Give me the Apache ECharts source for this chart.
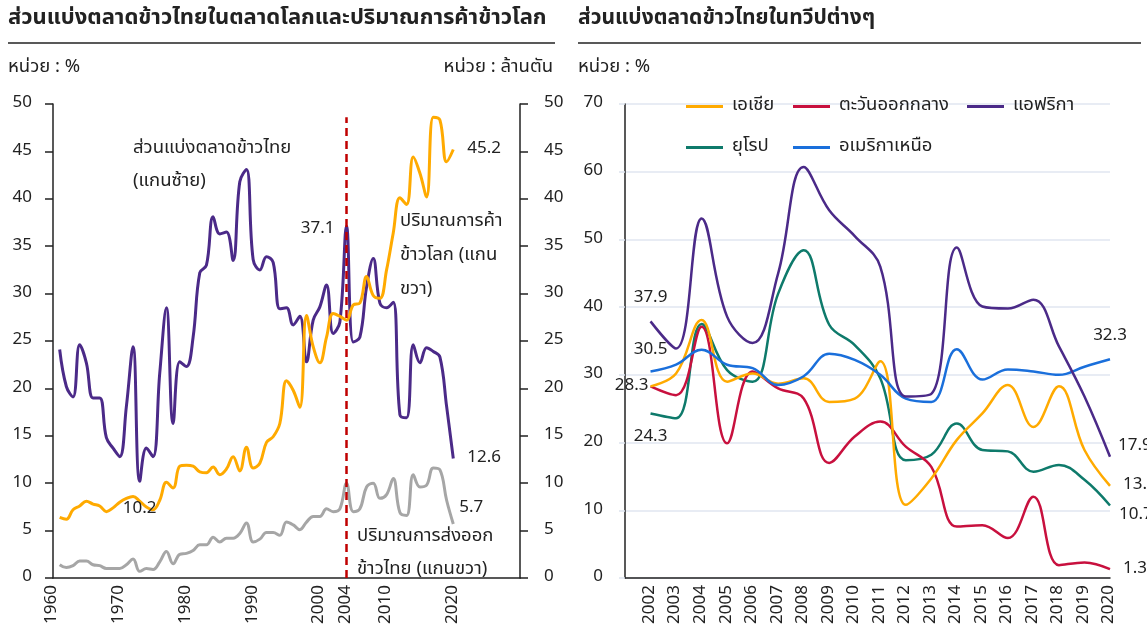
<!DOCTYPE html>
<html>
<head>
<meta charset="utf-8">
<script src="https://cdn.jsdelivr.net/npm/echarts@6/dist/echarts.min.js"></script>
<style>
  html, body { margin: 0; padding: 0; background: #fff; }
  #chart { width: 1147px; height: 629px; }
</style>
</head>
<body>
<div id="chart"></div>
<script>
const FONT = 'Tahoma, "Noto Sans Thai", "Noto Sans", sans-serif'
const TXT = '#222'

// ---- left panel data (1961-2020) ----
const shareYears = [
  1961, 1962, 1963, 1964, 1965, 1966, 1967, 1968, 1969, 1970,
  1971, 1972, 1973, 1974, 1975, 1976, 1977, 1978, 1979, 1980,
  1981, 1982, 1983, 1984, 1985, 1986, 1987, 1988, 1989, 1990,
  1991, 1992, 1993, 1994, 1995, 1996, 1997, 1998, 1999, 2000,
  2001, 2002, 2003, 2004, 2005, 2006, 2007, 2008, 2009, 2010,
  2011, 2012, 2013, 2014, 2015, 2016, 2017, 2018, 2019, 2020
]
// Thai share of world rice market, % (left axis)
const thaiShare = [
  24.1, 20.2, 19.1, 24.6, 22.7, 19.0, 19.0, 14.8, 13.7, 12.8,
  18.1, 24.4, 10.2, 13.7, 12.8, 21.6, 28.5, 16.3, 22.8, 22.3,
  25.4, 32.2, 33.0, 38.1, 36.3, 36.5, 33.5, 41.8, 43.1, 33.6,
  32.5, 33.9, 33.3, 28.4, 28.5, 26.7, 27.6, 22.8, 27.2, 28.6,
  30.9, 25.8, 27.0, 37.1, 24.9, 25.4, 30.7, 33.7, 29.0, 28.5,
  29.1, 17.2, 16.9, 24.6, 22.7, 24.3, 23.9, 23.3, 18.1, 12.6
]
// world rice trade, million tonnes (right axis)
const worldTrade = [
  6.4, 6.2, 7.2, 7.6, 8.1, 7.8, 7.6, 7.0, 7.4, 8.0,
  8.4, 8.6, 8.1, 7.5, 7.2, 8.2, 10.1, 9.5, 11.8, 11.9,
  11.8, 11.2, 11.1, 11.7, 10.9, 11.5, 12.8, 11.3, 13.8, 11.6,
  12.1, 14.3, 14.9, 16.3, 20.8, 19.8, 18.0, 27.7, 24.4, 22.7,
  25.4, 27.9, 27.6, 27.2, 28.8, 29.0, 31.8, 29.8, 29.5, 32.5,
  36.4, 40.1, 39.4, 44.4, 42.7, 40.2, 48.6, 48.3, 43.9, 45.2
]
// Thai rice exports, million tonnes (right axis)
const thaiExport = [
  1.4, 1.1, 1.3, 1.8, 1.8, 1.4, 1.3, 1.0, 1.0, 1.0,
  1.4, 2.0, 0.7, 1.0, 0.9, 1.7, 2.8, 1.5, 2.5, 2.6,
  2.9, 3.5, 3.5, 4.3, 3.8, 4.2, 4.2, 4.7, 5.8, 3.8,
  4.1, 4.8, 4.8, 4.5, 5.9, 5.6, 5.1, 5.9, 6.5, 6.5,
  7.3, 7.0, 7.3, 10.0, 7.0, 7.3, 9.6, 10.0, 8.4, 8.8,
  10.5, 6.9, 6.6, 10.9, 9.6, 9.8, 11.6, 11.4, 8.2, 5.7
]
const leftTickLabels = ['1960', '1970', '1980', '1990', '2000', '2004', '2010', '2020']

// ---- right panel data (2002-2020) ----
const regionYears = [
  '2002', '2003', '2004', '2005', '2006', '2007', '2008', '2009', '2010', '2011',
  '2012', '2013', '2014', '2015', '2016', '2017', '2018', '2019', '2020'
]
const asia = [28.3, 30.2, 38.1, 29.0, 30.2, 28.7, 29.5, 26.0, 26.5, 32.0, 10.8, 14.7, 20.4, 24.3, 28.5, 22.3, 28.3, 18.9, 13.6]
const middleEast = [28.3, 27.0, 37.1, 19.9, 30.5, 28.0, 26.5, 17.0, 20.9, 23.1, 19.4, 16.4, 7.6, 7.8, 5.9, 12.0, 1.9, 2.3, 1.3]
const africa = [37.9, 33.9, 53.1, 38.6, 34.7, 45.0, 60.7, 54.3, 50.5, 46.0, 26.8, 27.2, 48.8, 40.1, 39.8, 41.1, 34.2, 26.8, 17.9]
const europe = [24.3, 23.6, 37.5, 30.7, 29.0, 42.0, 48.4, 37.4, 34.4, 29.5, 17.4, 18.2, 22.8, 18.9, 18.7, 15.7, 16.7, 14.5, 10.7]
const northAmerica = [30.5, 31.5, 33.7, 31.5, 31.0, 28.5, 29.8, 33.1, 32.2, 30.0, 26.5, 26.0, 33.8, 29.3, 30.8, 30.5, 30.0, 31.2, 32.3]

// axis categories (left runs on to 2030 so the plot has room for end labels)
const leftCats = []
for (let y = 1960; y <= 2030; y++) leftCats.push(String(y))
const rightCats = ['2001'].concat(regionYears)

// attach a value label to selected points
function toData(xs, ys, labels) {
  return ys.map(function(v, i) {
    const key = String(xs[i])
    const item = { value: [key, v] }
    if (labels && labels[key]) {
      item.label = Object.assign({ show: true }, labels[key])
    }
    return item
  })
}

const valueLabel = {
  show: false,
  color: TXT,
  fontSize: 17,
  fontFamily: FONT,
  formatter: function(p) { return p.value[1].toFixed(1) }
}

function lineSeries(name, color, width, data, xIdx, yIdx, extra) {
  return Object.assign({
    name: name,
    type: 'line',
    xAxisIndex: xIdx,
    yAxisIndex: yIdx,
    data: data,
    smooth: 0.4,
    symbol: 'circle',
    symbolSize: 0,
    showSymbol: true,
    showAllSymbol: true,
    lineStyle: { color: color, width: width },
    itemStyle: { color: color },
    label: valueLabel,
    emphasis: { disabled: true },
    z: 3
  }, extra || {})
}

function legendItem(name, left, top) {
  return {
    data: [name],
    left: left,
    top: top,
    padding: 0,
    icon: 'rect',
    itemWidth: 37,
    itemHeight: 3,
    selectedMode: false,
    textStyle: { color: TXT, fontSize: 18.5, fontFamily: FONT, padding: [0, 0, 0, 4] }
  }
}

function text(str, x, y, opts) {
  return {
    type: 'text',
    x: x,
    y: y,
    silent: true,
    style: Object.assign({
      text: str,
      fill: TXT,
      font: '18.5px ' + FONT,
      textVerticalAlign: 'middle'
    }, opts || {})
  }
}

const yAxisBase = {
  type: 'value',
  min: 0,
  interval: 5,
  max: 50,
  axisLine: { show: true, lineStyle: { color: TXT, width: 1.5 } },
  axisTick: { show: true, length: 8, lineStyle: { color: TXT, width: 1.5 } },
  splitLine: { show: false },
  axisLabel: { color: TXT, fontSize: 17, fontFamily: FONT }
}

const option = {
  animation: false,
  backgroundColor: '#fff',
  grid: [
    { left: 53, top: 104, width: 467, height: 474 },
    { left: 625, top: 104, width: 485, height: 474 }
  ],
  xAxis: [
    {
      type: 'category',
      gridIndex: 0,
      data: leftCats,
      boundaryGap: false,
      axisLine: { lineStyle: { color: TXT, width: 1.5 } },
      axisTick: { show: false },
      axisLabel: {
        rotate: 90,
        margin: 7,
        color: TXT,
        fontSize: 17,
        fontFamily: FONT,
        interval: function(i, v) { return leftTickLabels.indexOf(v) >= 0 }
      }
    },
    {
      type: 'category',
      gridIndex: 1,
      data: rightCats,
      boundaryGap: false,
      axisLine: { lineStyle: { color: TXT, width: 1.5 } },
      axisTick: { show: false },
      axisLabel: {
        rotate: 90,
        margin: 7,
        color: TXT,
        fontSize: 17,
        fontFamily: FONT,
        interval: function(i) { return i > 0 }
      }
    }
  ],
  yAxis: [
    Object.assign({}, yAxisBase, {
      gridIndex: 0,
      position: 'left',
      axisLabel: Object.assign({}, yAxisBase.axisLabel, { margin: 21 })
    }),
    Object.assign({}, yAxisBase, {
      gridIndex: 0,
      position: 'right',
      axisLabel: Object.assign({}, yAxisBase.axisLabel, { margin: 24 })
    }),
    {
      type: 'value',
      gridIndex: 1,
      min: 0,
      max: 70,
      interval: 10,
      axisLine: { show: true, lineStyle: { color: TXT, width: 1.5 } },
      axisTick: { show: true, length: 6, lineStyle: { color: '#dde3ee', width: 1.5 } },
      splitLine: { show: true, lineStyle: { color: '#e1e6f0', width: 1.5 } },
      axisLabel: { color: TXT, fontSize: 17, fontFamily: FONT, margin: 22 }
    }
  ],
  legend: [
    legendItem('เอเชีย', 686, 97),
    legendItem('ตะวันออกกลาง', 793, 97),
    legendItem('แอฟริกา', 967, 97),
    legendItem('ยุโรป', 686, 138),
    legendItem('อเมริกาเหนือ', 793, 138)
  ],
  series: [
    lineSeries('ส่วนแบ่งตลาดข้าวไทย', '#4B2A88', 3,
      toData(shareYears, thaiShare, {
        1973: { position: 'bottom', distance: 20 },
        2004: { position: 'left', distance: 12, offset: [0, 3] },
        2020: { position: 'right', distance: 14 }
      }), 0, 0, {
        markLine: {
          silent: true,
          symbol: ['none', 'none'],
          label: { show: false },
          lineStyle: { color: '#C00000', type: [8, 5], width: 2.5 },
          data: [[{ coord: ['2004', 0] }, { coord: ['2004', 48.6] }]]
        }
      }),
    lineSeries('ปริมาณการค้าข้าวโลก', '#FFAA00', 3,
      toData(shareYears, worldTrade, {
        2020: { position: 'right', distance: 14 }
      }), 0, 1),
    lineSeries('ปริมาณการส่งออกข้าวไทย', '#A6A6A6', 3,
      toData(shareYears, thaiExport, {
        2020: { position: 'right', distance: 6, offset: [0, -15] }
      }), 0, 1, { z: 2 }),

    lineSeries('ยุโรป', '#0E7A6B', 2.5,
      toData(regionYears, europe, {
        2002: { position: 'bottom', distance: 16 },
        2020: { position: 'right', distance: 9, offset: [0, 10] }
      }), 1, 2),
    lineSeries('ตะวันออกกลาง', '#C8103E', 2.5,
      toData(regionYears, middleEast, {
        2020: { position: 'right', distance: 13 }
      }), 1, 2),
    lineSeries('เอเชีย', '#FFAA00', 2.5,
      toData(regionYears, asia, {
        2002: { position: 'left', distance: 2 },
        2020: { position: 'right', distance: 13 }
      }), 1, 2),
    lineSeries('อเมริกาเหนือ', '#1A6FDB', 2.5,
      toData(regionYears, northAmerica, {
        2002: { position: 'top', distance: 12 },
        2020: { position: 'top', distance: 14 }
      }), 1, 2),
    lineSeries('แอฟริกา', '#4B2A88', 2.5,
      toData(regionYears, africa, {
        2002: { position: 'top', distance: 14 },
        2020: { position: 'right', distance: 8, offset: [0, -10] }
      }), 1, 2)
  ],
  graphic: [
    text('ส่วนแบ่งตลาดข้าวไทยในตลาดโลกและปริมาณการค้าข้าวโลก', 8, 20, { font: 'bold 22px ' + FONT }),
    text('ส่วนแบ่งตลาดข้าวไทยในทวีปต่างๆ', 578, 20, { font: 'bold 21px ' + FONT }),
    { type: 'line', silent: true, shape: { x1: 8, y1: 43, x2: 555, y2: 43 }, style: { stroke: TXT, lineWidth: 1.5 } },
    { type: 'line', silent: true, shape: { x1: 578, y1: 43, x2: 1141, y2: 43 }, style: { stroke: TXT, lineWidth: 1.5 } },
    text('หน่วย : %', 8, 68),
    text('หน่วย : ล้านตัน', 553, 68, { textAlign: 'right' }),
    text('หน่วย : %', 578, 68),
    text('ส่วนแบ่งตลาดข้าวไทย', 133, 149),
    text('(แกนซ้าย)', 133, 182),
    text('ปริมาณการค้า', 400, 222),
    text('ข้าวโลก (แกน', 400, 256),
    text('ขวา)', 400, 290),
    text('ปริมาณการส่งออก', 357, 537),
    text('ข้าวไทย (แกนขวา)', 357, 570)
  ]
}

const chart = echarts.init(document.getElementById('chart'), null, { renderer: 'canvas' })
chart.setOption(option)
</script>
</body>
</html>
